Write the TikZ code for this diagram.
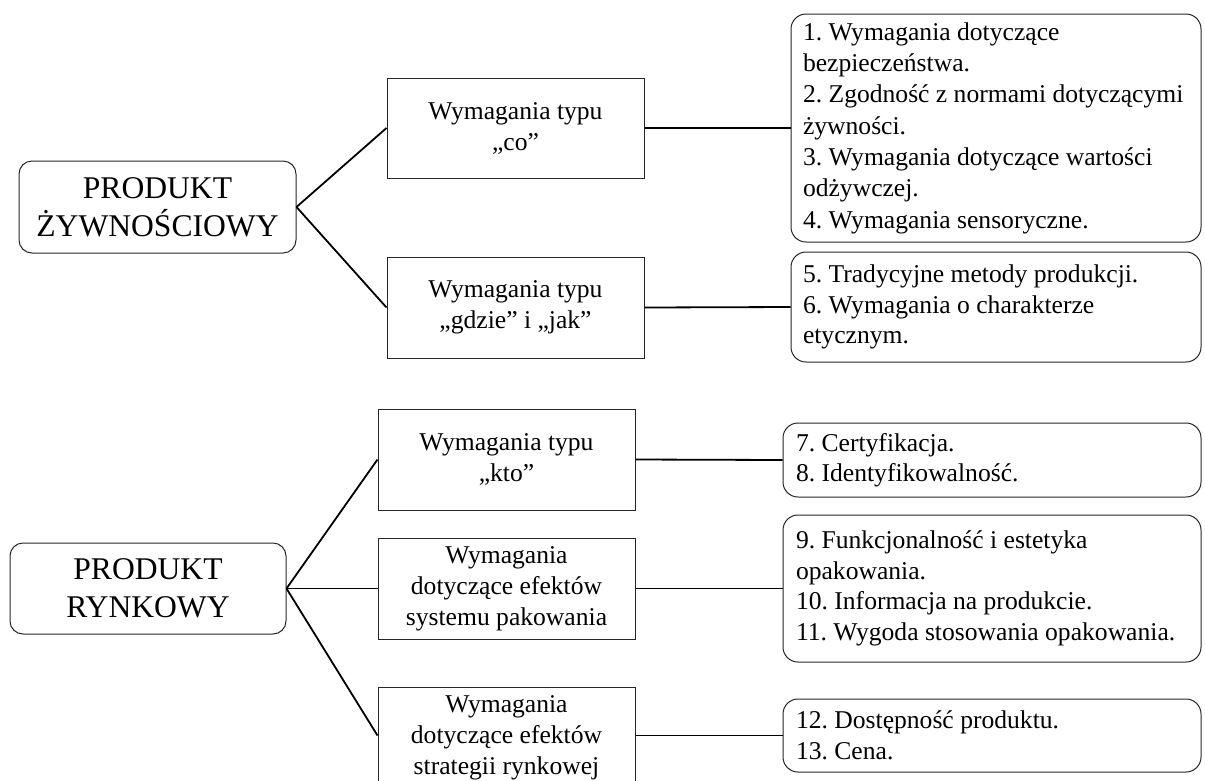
\documentclass[tikz,border=0pt]{standalone}
\usepackage{fontspec}
\setmainfont{Liberation Serif}
\frenchspacing
\begin{document}
\begin{tikzpicture}[x=1pt,y=-1pt,
  bigbox/.style={draw=black!85, line width=1pt, rounded corners=13pt, align=center, inner sep=0pt, font=\fontsize{31.6}{38}\selectfont},
  midbox/.style={draw=black!85, line width=1pt, minimum width=257pt, minimum height=101pt, align=center, inner sep=0pt, font=\fontsize{25.6}{31}\selectfont},
  listbox/.style={draw=black!85, line width=1pt, rounded corners=15pt, align=flush left, inner ysep=0pt, font=\fontsize{25.6}{30.5}\selectfont},
  conn/.style={line width=1.8pt, black}]
\useasboundingbox (0,0) rectangle (1205,780);
\clip (0,0) rectangle (1205,780);

% top group
\node[bigbox, minimum width=277pt, minimum height=92pt] (pz) at (157.5,207) {PRODUKT\\ŻYWNOŚCIOWY};
\node[midbox, minimum height=100pt] (co) at (515.5,128) {Wymagania typu\\„co”};
\node[midbox] (gj) at (515.5,307.5) {Wymagania typu\\„gdzie” i „jak”};
\node[listbox, inner xsep=12pt, text width=386pt, minimum height=228pt, font=\fontsize{25.6}{31.3}\selectfont] (r1) at (996,128)
  {1. Wymagania dotyczące\\bezpieczeństwa.\\2. Zgodność z normami dotyczącymi\\żywności.\\3. Wymagania dotyczące wartości\\odżywczej.\\4. Wymagania sensoryczne.};
\node[listbox, inner xsep=12pt, text width=386pt, minimum height=110pt] (r2) at (996,307)
  {5. Tradycyjne metody produkcji.\\6. Wymagania o charakterze\\etycznym.};

% bottom group
\node[bigbox, minimum width=276pt, minimum height=91pt] (pr) at (148,588.5) {PRODUKT\\RYNKOWY};
\node[midbox] (kto) at (506.5,459.5) {Wymagania typu\\„kto”};
\node[midbox] (pak) at (506.5,588.5) {Wymagania\\dotyczące efektów\\systemu pakowania};
\node[midbox] (str) at (506.5,737.5) {Wymagania\\dotyczące efektów\\strategii rynkowej};
\node[listbox, inner xsep=13pt, text width=392pt, minimum height=74pt] (r3) at (992,460)
  {7. Certyfikacja.\\8. Identyfikowalność.};
\node[listbox, inner xsep=13pt, text width=392pt, minimum height=147pt] (r4) at (992,588.5)
  {9. Funkcjonalność i estetyka\\opakowania.\\10. Informacja na produkcie.\\11. Wygoda stosowania opakowania.};
\node[listbox, inner xsep=13pt, text width=392pt, minimum height=73pt] (r5) at (992,735.5)
  {12. Dostępność produktu.\\13. Cena.};

% connectors
\draw[conn] (pz.east) -- (co.west);
\draw[conn] (pz.east) -- (gj.west);
\draw[conn] (co.east) -- (r1.west);
\draw[conn] (gj.east) -- (r2.west);
\draw[conn] (pr.east) -- (kto.west);
\draw[conn] (pr.east) -- (pak.west);
\draw[conn] (pr.east) -- (str.west |- r5.west);
\draw[conn] (kto.east) -- (r3.west);
\draw[conn] (pak.east) -- (r4.west);
\draw[conn] (str.east |- r5.west) -- (r5.west);
\end{tikzpicture}
\end{document}
